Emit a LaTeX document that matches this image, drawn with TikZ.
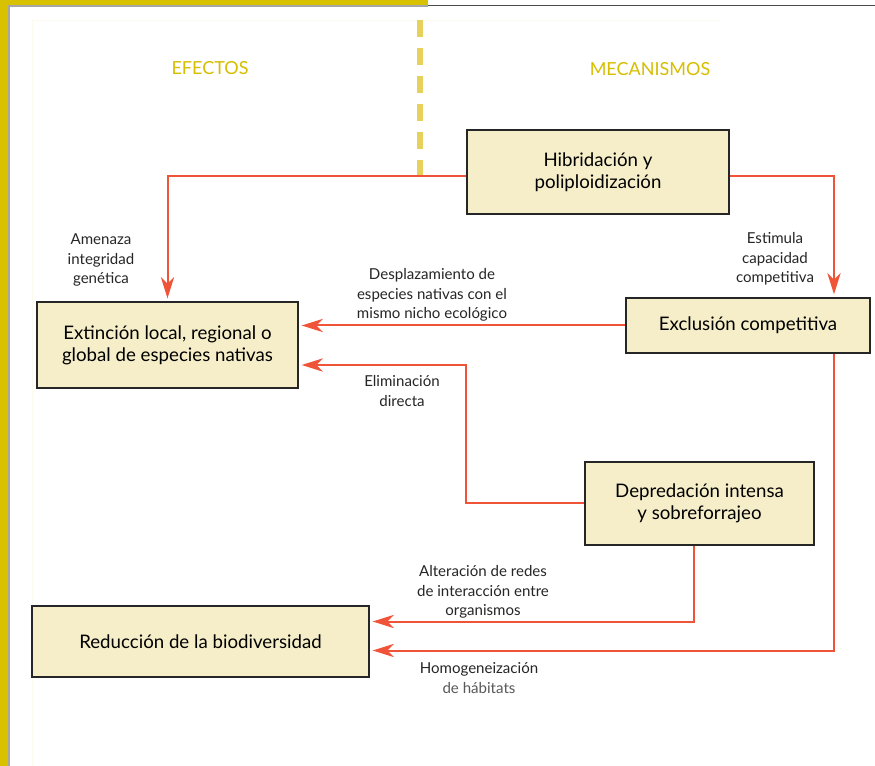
\documentclass[tikz,border=0pt]{standalone}
\usepackage{fontspec}
\setmainfont{Lato}
\usetikzlibrary{arrows.meta,calc,positioning}

\definecolor{boxfill}{RGB}{245,238,200}
\definecolor{arrowred}{RGB}{240,84,56}
\definecolor{headyellow}{RGB}{214,190,0}
\definecolor{dashyellow}{RGB}{230,210,90}
\definecolor{frameyellow}{RGB}{216,194,0}

\begin{document}
\begin{tikzpicture}[x=0.75pt,y=-0.75pt]
\tikzstyle{every node}+=[inner sep=0pt]
\tikzstyle{box}=[draw=black!85,line width=1.5pt,fill=boxfill,align=center,font=\fontsize{14}{16.5}\selectfont]
\tikzstyle{lbl}=[align=center,font=\fontsize{11.3}{14.6}\selectfont,text=black!85]
\tikzstyle{head}=[font=\fontsize{13.5}{16}\selectfont,text=headyellow]
\tikzstyle{arr}=[draw=arrowred,line width=1.5pt,-{Stealth[length=16pt,width=10pt,inset=5pt]},shorten >=2pt]
\useasboundingbox (0,0) rectangle (875,766);
\fill[white] (0,0) rectangle (875,766);
% frame
\fill[frameyellow] (0,0) rectangle (8,766);
\fill[frameyellow] (0,0) rectangle (428,5);
\draw[gray!70,line width=0.8pt] (9,766) -- (9,6) -- (428,6);
\draw[black!70,line width=1pt] (428,5.5) -- (875,5.5);
\draw[boxfill!30,line width=0.6pt] (32,766) -- (32,20) -- (720,20);
\draw[dashyellow,line width=4.5pt,dash pattern=on 12.75pt off 8.25pt] (420,20) -- (420,176);
% headings
\node[head] (efe) at (210,68) {EFECTOS};
\node[head] (mec) at (650,69) {MECANISMOS};
% boxes
\node[box,minimum width=196.5pt,minimum height=63pt] (hib) at (598,172) {Hibridación y\\poliploidización};
\node[box,minimum width=195.75pt,minimum height=64.5pt] (ext) at (167.5,345) {Extinción local, regional o\\global de especies nativas};
\node[box,minimum width=183pt,minimum height=41.25pt] (exc) at (748,325.5) {Exclusión competitiva};
\node[box,minimum width=171.75pt,minimum height=62.25pt] (dep) at (699.5,503.5) {Depredación intensa\\y sobreforrajeo};
\node[box,minimum width=252.75pt,minimum height=53.25pt] (red) at (200.5,641.5) {Reducción de la biodiversidad};
% labels
\node[lbl] (ame) at (101,260) {Amenaza\\integridad\\genética};
\node[lbl] (est) at (775,259) {Estimula\\capacidad\\competitiva};
\node[lbl] (des) at (432,295) {Desplazamiento de\\especies nativas con el\\mismo nicho ecológico};
\node[lbl] (eli) at (402,391) {Eliminación\\directa};
\node[lbl] (alt) at (483,592) {Alteración de redes\\de interacción entre\\organismos};
\node[lbl] (hom) at (479,678) {Homogeneización\\{\color{black!65}de hábitats}};
% arrows
\coordinate (rcol) at (834,0);
\draw[arr] ($(hib.west)+(0,4)$) -| (ext.north);
\draw[arr] ($(hib.east)+(0,4)$) -| (exc.north -| rcol);
\draw[arr] (exc.west) -- (exc.west -| ext.east);
\draw[arr] (dep.west) -- (dep.west -| hib.west) |- ($(ext.east)+(0,20)$);
\draw[arr] ($(dep.south)+(-6,0)$) |- ($(red.east)+(0,-20)$);
\draw[arr] (exc.south -| rcol) |- ($(red.east)+(0,9)$);
\end{tikzpicture}
\end{document}
